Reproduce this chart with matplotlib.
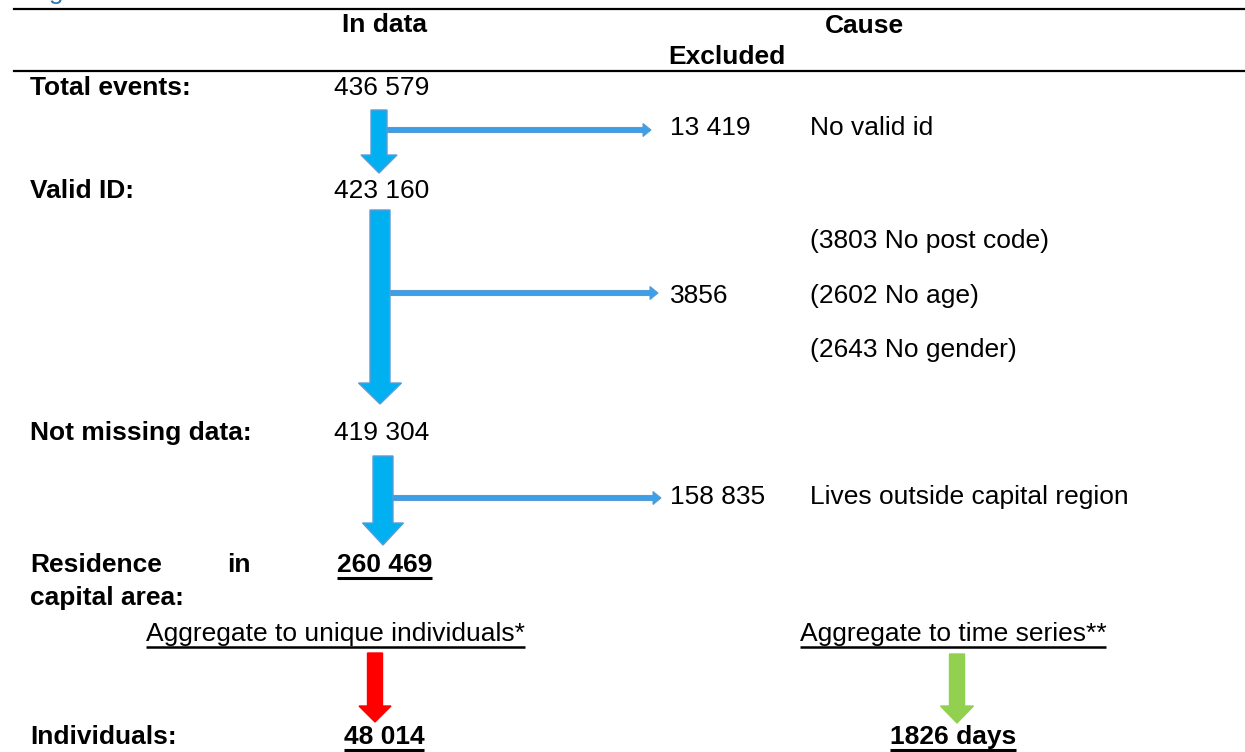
import matplotlib
matplotlib.use('Agg')
import matplotlib.pyplot as plt
from matplotlib.patches import Polygon

# data
stage_labels = ['Total events:', 'Valid ID:', 'Not missing data:']
stage_counts = ['436 579', '423 160', '419 304']
final_stage_label = ['Residence', 'in', 'capital area:']
final_stage_count = '260 469'
excluded_counts = ['13 419', '3856', '158 835']
excluded_causes = ['No valid id', '(2602 No age)', 'Lives outside capital region']
missing_details = ['(3803 No post code)', '(2643 No gender)']
aggregations = ['Aggregate to unique individuals*', 'Aggregate to time series**']
result_label = 'Individuals:'
result_values = ['48 014', '1826 days']
headers = ['In data', 'Cause', 'Excluded']

# layout (pixel coords)
W, H = 1245, 752
stage_y = [88, 191, 433]
excl_y = [128, 296, 497]
detail_y = [241, 350]
FS = 19
BLUE = '#00B0F0'
BLUE_EDGE = '#5B9BD5'
BRANCH = '#3BA0E8'

plt.rcParams['font.family'] = ['Liberation Sans', 'DejaVu Sans']
fig = plt.figure(figsize=(W / 100, H / 100), dpi=100)
ax = fig.add_axes([0, 0, 1, 1])
ax.set_xlim(0, W)
ax.set_ylim(H, 0)
ax.axis('off')


def txt(x, y, s, bold=False, ha='left', underline=False, lw=1.6):
    t = ax.text(x, y, s, fontsize=FS, fontweight='bold' if bold else 'normal',
                ha=ha, va='center', color='black')
    if underline:
        r = fig.canvas.get_renderer()
        bb = t.get_window_extent(renderer=r)
        inv = ax.transData.inverted()
        (x0, _), (x1, _) = inv.transform([(bb.x0, bb.y0), (bb.x1, bb.y0)])
        ax.plot([x0, x1], [y + 13, y + 13], color='black', lw=lw, solid_capstyle='butt')
    return t


def down_arrow(xc, y0, yh, y1, sw, hw, fc, ec=None):
    pts = [(xc - sw / 2, y0), (xc + sw / 2, y0), (xc + sw / 2, yh), (xc + hw / 2, yh),
           (xc, y1), (xc - hw / 2, yh), (xc - sw / 2, yh)]
    ax.add_patch(Polygon(pts, closed=True, fc=fc, ec=ec if ec else fc, lw=1.0, zorder=3))


def right_arrow(x0, x1, yc, sw=5, hw=13, hl=8):
    xh = x1 - hl
    pts = [(x0, yc - sw / 2), (xh, yc - sw / 2), (xh, yc - hw / 2), (x1, yc),
           (xh, yc + hw / 2), (xh, yc + sw / 2), (x0, yc + sw / 2)]
    ax.add_patch(Polygon(pts, closed=True, fc=BRANCH, ec=BLUE_EDGE, lw=0.8, zorder=2))


# clipped blue caption at top edge
ax.text(27, -1.5, 'Figure 1', fontsize=FS, color='#2E74B5', ha='left', va='baseline')

# header rules
ax.plot([14, W], [9, 9], color='black', lw=1.6)
ax.plot([14, W], [71, 71], color='black', lw=1.6)
txt(385, 25, headers[0], bold=True, ha='center')
txt(864, 26, headers[1], bold=True, ha='center')
txt(727, 57, headers[2], bold=True, ha='center')

# stages
for lab, cnt, y in zip(stage_labels, stage_counts, stage_y):
    txt(30, y, lab, bold=True)
    txt(334, y, cnt)

txt(30, 565, final_stage_label[0], bold=True)
txt(251, 565, final_stage_label[1], bold=True, ha='right')
txt(30, 598, final_stage_label[2], bold=True)
txt(337, 565, final_stage_count, bold=True, underline=True, lw=2.2)

# main flow arrows
down_arrow(379, 110, 155, 173, 16, 36, BLUE, BLUE_EDGE)
down_arrow(380, 210, 383, 404, 20, 43, BLUE, BLUE_EDGE)
down_arrow(383, 456, 523, 545, 20, 41, BLUE, BLUE_EDGE)

# exclusion branches
right_arrow(384, 651, 130)
right_arrow(390, 658, 293)
right_arrow(393, 661, 498)

for cnt, cause, y in zip(excluded_counts, excluded_causes, excl_y):
    txt(670, y, cnt)
    txt(810, y, cause)
for det, y in zip(missing_details, detail_y):
    txt(810, y, det)

# aggregation
txt(335, 634, aggregations[0], ha='center', underline=True, lw=1.8)
txt(953, 634, aggregations[1], ha='center', underline=True, lw=1.8)
down_arrow(375, 653, 706, 722, 15, 32, '#FF0000')
down_arrow(957, 654, 706, 723, 15, 33, '#92D050')

txt(30, 737, result_label, bold=True)
txt(384, 737, result_values[0], bold=True, ha='center', underline=True, lw=2.2)
txt(953, 737, result_values[1], bold=True, ha='center', underline=True, lw=2.2)

fig.savefig('out.png', dpi=100)
